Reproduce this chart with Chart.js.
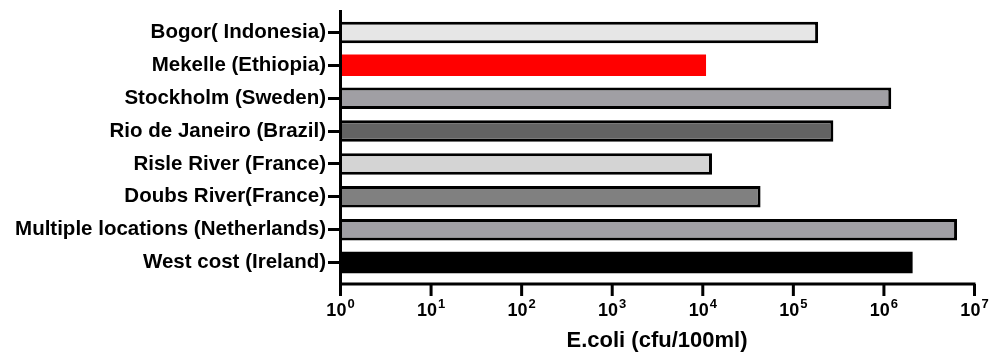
<!DOCTYPE html>
<html>
<head>
<meta charset="utf-8">
<script src="https://cdn.jsdelivr.net/npm/chart.js@4"></script>
<style>
  body { margin: 0; background: #fff; }
  #wrap { width: 1001px; height: 358px; }
</style>
</head>
<body>
<div id="wrap"><canvas id="chart"></canvas></div>
<script>
const sites = ['Bogor( Indonesia)', 'Mekelle (Ethiopia)', 'Stockholm (Sweden)', 'Rio de Janeiro (Brazil)',
    'Risle River (France)', 'Doubs River(France)', 'Multiple locations (Netherlands)', 'West cost (Ireland)'];
const ecoli = [1.9e5, 1.1e4, 1.22e6, 2.8e5, 1.28e4, 4.4e4, 6.5e6, 2.1e6]; // cfu/100ml
const decades = [1, 10, 100, 1e3, 1e4, 1e5, 1e6, 1e7];
const tickExp = ['0', '1', '2', '3', '4', '5', '6', '7'];

const font = 'Liberation Sans, Arial, sans-serif';

// axis lines + x tick marks/labels drawn by hand (Prism style, superscript powers)
const axisLines = {
    id: 'axisLines',
    afterDatasetsDraw(chart) {
        const { ctx, chartArea: a, scales: { x } } = chart;
        const y0 = a.bottom + 5;
        ctx.save();
        ctx.strokeStyle = '#000';
        ctx.lineWidth = 3;
        ctx.beginPath();
        ctx.moveTo(a.left + 0.5, 10);
        ctx.lineTo(a.left + 0.5, y0 + 1.5);
        ctx.moveTo(a.left, y0);
        ctx.lineTo(x.getPixelForValue(decades[decades.length - 1]) + 1.5, y0);
        decades.forEach(v => {
            const px = x.getPixelForValue(v) + 0.5;
            ctx.moveTo(px, y0);
            ctx.lineTo(px, y0 + 12);
        });
        ctx.stroke();

        // tick labels 10^n
        ctx.fillStyle = '#000';
        ctx.textBaseline = 'alphabetic';
        ctx.textAlign = 'left';
        const baseFont = 'bold 18px ' + font;
        const expFont = 'bold 13px ' + font;
        decades.forEach((v, i) => {
            const px = x.getPixelForValue(v) + 0.5;
            ctx.font = baseFont;
            const wb = ctx.measureText('10').width;
            ctx.font = expFont;
            const we = ctx.measureText(tickExp[i]).width;
            const left = px - (wb + we + 1) / 2;
            ctx.font = baseFont;
            ctx.fillText('10', left, 316);
            ctx.font = expFont;
            ctx.fillText(tickExp[i], left + wb + 1, 308);
        });
        ctx.restore();
    }
};

new Chart(document.getElementById('chart'), {
    type: 'bar',
    data: {
        labels: sites,
        datasets: [{
            data: ecoli,
            backgroundColor: ['#e6e6e6', '#ff0000', '#a09fa4', '#636363', '#d4d4d4', '#808080', '#a09fa4', '#000000'],
            borderColor: '#000',
            borderWidth: [3, 0, 3, 3, 3, 3, 3, 0],
            categoryPercentage: 1,
            barPercentage: 0.655
        }]
    },
    plugins: [axisLines],
    options: {
        indexAxis: 'y',
        responsive: true,
        maintainAspectRatio: false,
        animation: false,
        layout: { padding: { top: 16, right: 27, left: 0, bottom: 0 } },
        plugins: { legend: { display: false }, tooltip: { enabled: false } },
        scales: {
            x: {
                type: 'logarithmic',
                min: 1,
                max: 1e7,
                afterBuildTicks: s => { s.ticks = decades.map(v => ({ value: v })); },
                afterFit: s => { s.height = 79; },
                grid: { display: false, drawTicks: false },
                border: { display: false },
                ticks: { display: false },
                title: {
                    display: true,
                    text: 'E.coli (cfu/100ml)',
                    color: '#000',
                    font: { family: font, size: 22, weight: 'bold' },
                    padding: { top: 0, bottom: 4 }
                }
            },
            y: {
                afterFit: s => { s.width = 340; },
                grid: { display: true, drawOnChartArea: false, offset: false, tickLength: 12, lineWidth: 3, color: '#000' },
                border: { display: false },
                ticks: {
                    padding: 2,
                    color: '#000',
                    font: { family: font, size: 20.5, weight: 'bold' }
                }
            }
        }
    }
});
</script>
</body>
</html>
